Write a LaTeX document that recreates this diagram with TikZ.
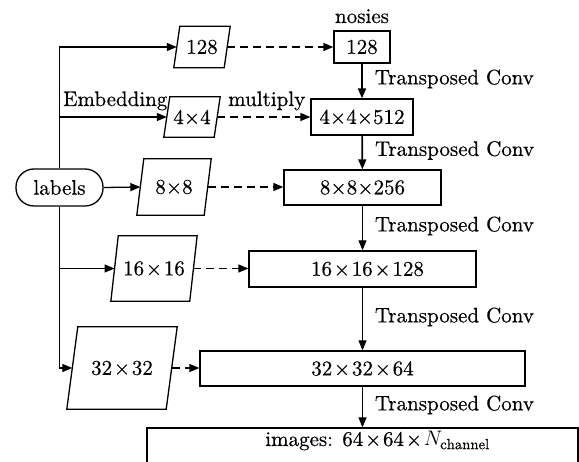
\RequirePackage{fix-cm}
\documentclass[tikz,border=0pt]{standalone}
\usepackage{fontspec}
\setmainfont{lmroman10-regular}[Extension=.otf, ItalicFont=lmroman10-italic, BoldFont=lmroman10-bold, FakeBold=0.45]
\usetikzlibrary{arrows.meta}
\newcommand\X{\hspace{0.08em}×\hspace{0.08em}}
\newcommand\pgram[7]{%
  \node[pg, minimum width=#4pt, minimum height=#5pt] (#1) at (#2,#3) {#7};
  \draw[shapeline] ([xshift=#6pt]#1.north west) -- ([xshift=#6pt]#1.north east)
    -- ([xshift=-#6pt]#1.south east) -- ([xshift=-#6pt]#1.south west) -- cycle;}
\begin{document}
\begin{tikzpicture}[x=1pt,y=-1pt,
  every node/.style={font=\fontsize{21}{25}\selectfont},
  shapeline/.style={line width=1.3pt},
  box/.style={draw, shapeline, inner sep=0pt},
  pg/.style={inner sep=0pt},
  arr/.style={line width=1.3pt, -{Triangle[length=10pt,width=8pt]}},
  thickarr/.style={arr, line width=1.7pt},
  thinarr/.style={arr, line width=0.9pt},
  darr/.style={arr, dash pattern=on 8pt off 5pt},
  conv/.style={midway, anchor=west, inner xsep=2pt, xshift=10pt, yshift=2pt}]
\useasboundingbox (0,0) rectangle (579,462);
% labels
\node[draw, shapeline, rounded corners=18pt, minimum width=87pt, minimum height=37pt, inner sep=0pt] (labels) at (59.5,187.5) {labels};
% parallelograms
\pgram{P1}{202}{47}{50}{41}{3}{128}
\pgram{P2}{192}{117}{50}{40}{3}{4×4}
\pgram{P3}{174}{187}{67}{56}{3.5}{8×8}
\pgram{P4}{154}{268.5}{78.5}{65}{3.7}{16\X16}
\pgram{P5}{122}{368}{99}{82}{5.5}{32\X32}
% boxes
\node[box, minimum width=56pt, minimum height=32pt] (B1) at (362,47) {128};
\node[box, minimum width=102pt, minimum height=36pt] (B2) at (362,117) {4×4×512};
\node[box, minimum width=157pt, minimum height=35pt] (B3) at (362.5,187.5) {8×8×256};
\node[box, minimum width=227pt, minimum height=36pt] (B4) at (362.5,269) {\hspace*{10pt}16\X16\X128};
\node[box, minimum width=325pt, minimum height=35pt] (B5) at (362.5,368.5) {32\X32\X64};
\node[box, minimum width=431pt, inner ysep=4pt, text height=14pt, text depth=25pt] (B6) at (362.5,451.5) {\hspace*{30pt}images: 64\X64\X$N_{\mathrm{channel}}$};
% texts
\node[anchor=base] (nos) at (362,23) {nosies};
\node[anchor=base west, inner sep=0pt] (emb) at (63,106) {Embedding};
\node[anchor=base west, inner sep=0pt] (mul) at (228,106) {multiply};
% trunk connectors
\draw[arr] (labels.north) |- (P1.west);
\draw[arr] (labels.north) |- (P2.west);
\draw[arr] (labels.east) -- (P3.west);
\draw[arr] (labels.south) |- (P4.west);
\draw[arr] (labels.south) |- (P5.west);
% dashed
\draw[darr] (P1.east) -- (P1.east -| B1.west);
\draw[darr] (P2.east) -- (P2.east -| B2.west);
\draw[darr] (P3.east) -- (P3.east -| B3.west);
\draw[darr] (P4.east) -- (P4.east -| B4.west);
\draw[darr] (P5.east) -- (P5.east -| B5.west);
% vertical
\draw[thickarr] (B1) -- (B2) node[conv] {Transposed Conv};
\draw[thickarr] (B2) -- (B3) node[conv] {Transposed Conv};
\draw[thinarr] (B3) -- (B4) node[conv] {Transposed Conv};
\draw[thinarr] (B4) -- (B5) node[conv] {Transposed Conv};
\draw[thinarr] (B5) -- (B6) node[conv] {Transposed Conv};
\end{tikzpicture}
\end{document}
